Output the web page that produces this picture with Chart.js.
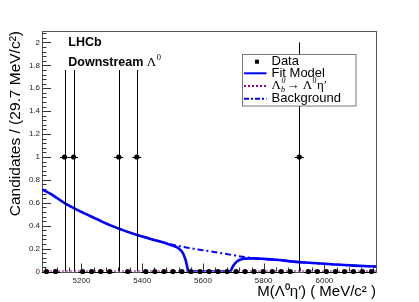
<!DOCTYPE html>
<html><head><meta charset="utf-8">
<script src="https://cdn.jsdelivr.net/npm/chart.js@4/dist/chart.umd.min.js"></script>
<style>html,body{margin:0;padding:0;background:#fff;overflow:hidden;}</style>
</head><body>
<canvas id="c" width="419" height="302"></canvas>
<script>
// ---------------- data ----------------
const xRange = [5070, 6170];
const binWidth = 29.73;
const binCenters = [5084.9, 5114.6, 5144.3, 5174.1, 5203.8, 5233.5, 5263.2, 5293.0, 5322.7, 5352.4,
  5382.2, 5411.9, 5441.6, 5471.4, 5501.1, 5530.8, 5560.5, 5590.3, 5620.0, 5649.7,
  5679.5, 5709.2, 5738.9, 5768.6, 5798.4, 5828.1, 5857.8, 5887.6, 5917.3, 5947.0,
  5976.8, 6006.5, 6036.2, 6066.0, 6095.7, 6125.4, 6155.1];
const counts = [0,0,1,1,0,0,0,0,1,0, 1,0,0,0,0,0,0,0,0,0, 0,0,0,0,0,0,0,0,1,0, 0,0,0,0,0,0,0];
const errLow  = [0,0,1,1,0,0,0,0,1,0, 1,0,0,0,0,0,0,0,0,0, 0,0,0,0,0,0,0,0,1,0, 0,0,0,0,0,0,0];
const errHigh = [0,0,1,1,0,0,0,0,1,0, 1,0,0,0,0,0,0,0,0,0, 0,0,0,0,0,0,0,0,1,0, 0,0,0,0,0,0,0];

const fitX = [5070,5100,5150,5200,5250,5300,5350,5400,5450,5480,5500,5515,5525,5533,5540,5545,5550,5553,
  5690,5695,5700,5710,5720,5735,5755,5800,5850,5900,5950,6000,6050,6100,6170];
const fitY = [0.718,0.675,0.588,0.520,0.458,0.398,0.348,0.305,0.268,0.245,0.226,0.210,0.190,0.165,0.125,0.080,0.020,0.0,
  0.0,0.025,0.050,0.082,0.100,0.111,0.115,0.110,0.100,0.086,0.076,0.067,0.059,0.051,0.043];

const bkgX = [5070,5100,5150,5200,5250,5300,5350,5400,5450,5480,5500,5550,5600,5650,5700,5750,5800,5850,5900,5950,6000,6050,6100,6170];
const bkgY = [0.718,0.675,0.588,0.520,0.458,0.398,0.348,0.305,0.268,0.247,0.234,0.207,0.186,0.165,0.142,0.122,0.110,0.100,0.086,0.076,0.067,0.059,0.051,0.043];

const sigX = [5070, 6170];
const sigY = [0, 0];

const xTickValues = [5200, 5400, 5600, 5800, 6000];
const yTickValues = [0, 0.2, 0.4, 0.6, 0.8, 1, 1.2, 1.4, 1.6, 1.8, 2];
const yMax = 2.1;

const yTitle = 'Candidates / (29.7 MeV/c\u00B2)';
const xTitle = 'M(\u039B\u2070\u03B7\u2032) ( MeV/c\u00B2 )';

// ---------------- helpers ----------------
const pts = (xs, ys) => xs.map((x, i) => ({x: x, y: ys[i]}));

const rootPlugin = {
  id: 'rootStyle',
  beforeDatasetsDraw(chart) {
    const {ctx, chartArea: a, scales: {x, y}} = chart;
    ctx.save();
    // frame
    ctx.strokeStyle = '#555';
    ctx.lineWidth = 1;
    ctx.strokeRect(Math.round(a.left) + 0.5, Math.round(a.top) + 0.5, Math.round(a.right - a.left), Math.round(a.bottom - a.top));
    ctx.strokeStyle = '#333';
    // y ticks (inward)
    for (let v = 0; v <= yMax + 1e-9; v += 0.04) {
      const vv = Math.round(v * 100) / 100;
      const major = Math.abs(vv * 5 - Math.round(vv * 5)) < 1e-6;
      const py = Math.round(y.getPixelForValue(vv)) + 0.5;
      ctx.beginPath();
      ctx.moveTo(a.left, py);
      ctx.lineTo(a.left + (major ? 9 : 4.5), py);
      ctx.stroke();
    }
    // x ticks (inward)
    for (let v = 5080; v <= xRange[1]; v += 40) {
      const major = v % 200 === 0;
      const px = Math.round(x.getPixelForValue(v)) + 0.5;
      ctx.beginPath();
      ctx.moveTo(px, a.bottom);
      ctx.lineTo(px, a.bottom - (major ? 8 : 4));
      ctx.stroke();
    }
    ctx.restore();
  },
  beforeDatasetDraw(chart, args) {
    if (args.index !== 0) return;
    const {ctx, chartArea: a, scales: {x, y}} = chart;
    ctx.save();
    ctx.beginPath();
    ctx.rect(a.left, a.top, a.right - a.left, a.bottom - a.top + 2);
    ctx.clip();
    ctx.strokeStyle = '#000';
    ctx.lineWidth = 1;
    binCenters.forEach((c, i) => {
      const px = Math.round(x.getPixelForValue(c)) + 0.5;
      const py = y.getPixelForValue(counts[i]);
      const pyr = Math.round(py) + 0.5;
      ctx.beginPath();
      ctx.moveTo(x.getPixelForValue(c - binWidth / 2), pyr);
      ctx.lineTo(x.getPixelForValue(c + binWidth / 2), pyr);
      ctx.stroke();
      if (errLow[i] + errHigh[i] > 0) {
        ctx.beginPath();
        ctx.moveTo(px, y.getPixelForValue(counts[i] - errLow[i]));
        ctx.lineTo(px, y.getPixelForValue(counts[i] + errHigh[i]));
        ctx.stroke();
      }
    });
    ctx.restore();
  },
  afterDatasetsDraw(chart) {
    const {ctx, chartArea: a} = chart;
    const L = a.left, T = a.top;
    ctx.save();
    // LHCb text pave (opaque)
    ctx.fillStyle = '#fff';
    ctx.fillRect(L + 17, T + 1, 118, 38);
    ctx.fillStyle = '#000';
    ctx.textBaseline = 'alphabetic';
    ctx.textAlign = 'left';
    ctx.font = 'bold 12.5px "Liberation Sans", Arial, sans-serif';
    ctx.fillText('LHCb', L + 26.3, T + 15);
    ctx.fillText('Downstream ', L + 26.3, T + 34.7);
    let w = ctx.measureText('Downstream ').width;
    ctx.font = '13px "Liberation Serif", serif';
    ctx.fillText('\u039B', L + 26.3 + w, T + 34.7);
    let w2 = ctx.measureText('\u039B').width;
    ctx.font = '8.5px "Liberation Serif", serif';
    ctx.fillText('0', L + 26.8 + w + w2, T + 29);

    // legend
    const bx = 242.5, by = 54.5, bw = 113.5, bh = 51.5;
    ctx.fillStyle = '#fff';
    ctx.fillRect(bx, by, bw, bh);
    ctx.strokeStyle = '#777';
    ctx.lineWidth = 1;
    ctx.strokeRect(bx, by, bw, bh);
    const rows = [61.7, 73.3, 86, 98.7];
    const tx = 271.5;
    ctx.fillStyle = '#000';
    ctx.fillRect(255, rows[0] - 2, 4, 4);
    ctx.strokeStyle = '#0000ff';
    ctx.lineWidth = 2;
    ctx.beginPath(); ctx.moveTo(244, rows[1]); ctx.lineTo(266.5, rows[1]); ctx.stroke();
    ctx.strokeStyle = '#990099';
    ctx.setLineDash([2, 2]);
    ctx.beginPath(); ctx.moveTo(244, rows[2]); ctx.lineTo(266.5, rows[2]); ctx.stroke();
    ctx.strokeStyle = '#0000ff';
    ctx.setLineDash([5, 2, 2, 2]);
    ctx.beginPath(); ctx.moveTo(244, rows[3]); ctx.lineTo(266.5, rows[3]); ctx.stroke();
    ctx.setLineDash([]);
    ctx.fillStyle = '#000';
    ctx.textBaseline = 'middle';
    ctx.font = '13px "Liberation Sans", Arial, sans-serif';
    ctx.fillText('Data', tx, rows[0]);
    ctx.fillText('Fit Model', tx, rows[1]);
    ctx.fillText('Background', tx, rows[3]);
    let cx = tx;
    const serif = '13px "Liberation Serif", serif';
    const small = '8px "Liberation Serif", serif';
    const smallIt = 'italic 8px "Liberation Serif", serif';
    ctx.font = serif; ctx.fillText('\u039B', cx, rows[2]); cx += ctx.measureText('\u039B').width;
    ctx.font = smallIt; ctx.fillText('0', cx + 0.5, rows[2] - 5); ctx.fillText('b', cx, rows[2] + 4);
    cx += ctx.measureText('b').width + 1.5;
    ctx.font = serif; ctx.fillText('\u2192 \u039B', cx, rows[2]); cx += ctx.measureText('\u2192 \u039B').width;
    ctx.font = small; ctx.fillText('0', cx + 0.5, rows[2] - 5); cx += ctx.measureText('0').width + 1;
    ctx.font = serif; ctx.fillText('\u03B7\u2032', cx, rows[2]);
    ctx.restore();
  }
};

new Chart(document.getElementById('c'), {
  type: 'line',
  data: {
    datasets: [
      {
        label: 'Data', type: 'scatter', data: pts(binCenters, counts),
        showLine: false, pointRadius: 2.6, pointBackgroundColor: '#000', pointBorderColor: '#000',
        pointBorderWidth: 0, clip: false, order: 0
      },
      {
        label: 'Fit Model', data: pts(fitX, fitY), borderColor: '#0000ff', borderWidth: 2.6,
        pointRadius: 0, cubicInterpolationMode: 'monotone', fill: false, order: 1
      },
      {
        label: 'Signal', data: pts(sigX, sigY), borderColor: '#990099', borderWidth: 2,
        borderDash: [2, 2], pointRadius: 0, fill: false, order: 2
      },
      {
        label: 'Background', data: pts(bkgX, bkgY), borderColor: '#0000ff', borderWidth: 2,
        borderDash: [6, 3, 2, 3], pointRadius: 0, cubicInterpolationMode: 'monotone', fill: false, order: 3
      }
    ]
  },
  options: {
    responsive: false,
    animation: false,
    devicePixelRatio: 1,
    layout: {padding: {left: 0, top: 31, right: 43, bottom: 0}},
    plugins: {legend: {display: false}, tooltip: {enabled: false}},
    scales: {
      x: {
        type: 'linear', position: 'bottom', min: xRange[0], max: xRange[1],
        grid: {display: false, drawTicks: false}, border: {display: false},
        afterBuildTicks: s => { s.ticks = xTickValues.map(v => ({value: v})); },
        afterFit: s => { s.height = 30.5; },
        ticks: {
          autoSkip: false, maxRotation: 0, padding: 4, color: '#222',
          font: {family: '"Liberation Sans", Arial, sans-serif', size: 8},
          callback: v => String(v)
        },
        title: {
          display: true, text: xTitle, align: 'end', color: '#000',
          font: {family: '"Liberation Sans", Arial, sans-serif', size: 15},
          padding: {top: 0, bottom: 1}
        }
      },
      y: {
        type: 'linear', min: 0, max: yMax,
        grid: {display: false, drawTicks: false}, border: {display: false},
        afterBuildTicks: s => { s.ticks = yTickValues.map(v => ({value: v})); },
        afterFit: s => { s.width = 42; },
        ticks: {
          padding: 2, color: '#222',
          font: {family: '"Liberation Sans", Arial, sans-serif', size: 8},
          callback: v => String(Math.round(v * 10) / 10)
        },
        title: {
          display: true, text: yTitle, align: 'end', color: '#000',
          font: {family: '"Liberation Sans", Arial, sans-serif', size: 15.5},
          padding: {top: 6, bottom: 0}
        }
      }
    }
  },
  plugins: [rootPlugin]
});
</script>
</body></html>
